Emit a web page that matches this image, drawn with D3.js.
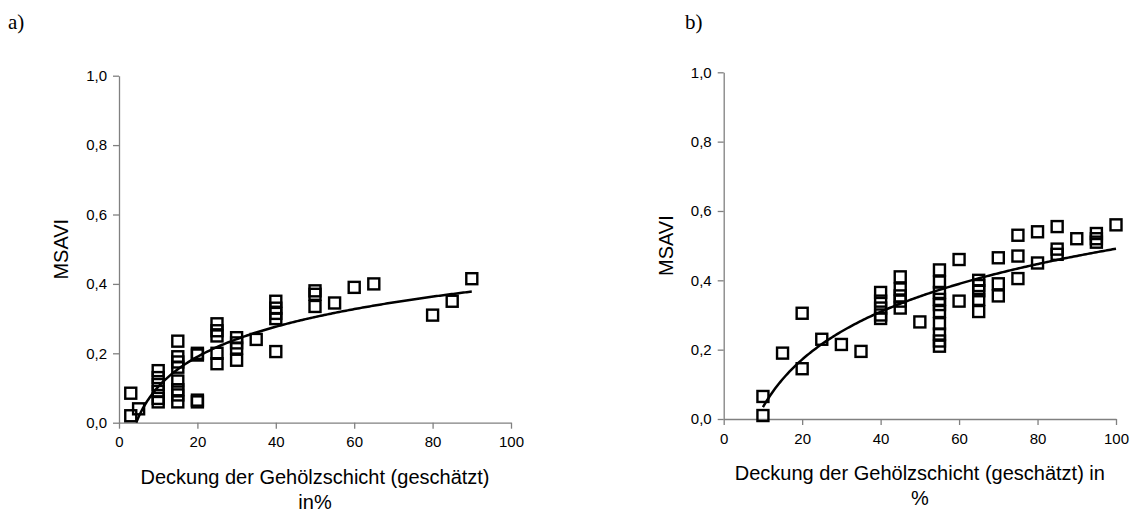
<!DOCTYPE html>
<html>
<head>
<meta charset="utf-8">
<script src="https://cdn.jsdelivr.net/npm/d3@7"></script>
<style>
  body { margin: 0; background: #fff; }
  svg text { font-family: Arial, "Liberation Sans", sans-serif; }
</style>
</head>
<body>
<svg width="1137" height="513"></svg>
<script>
// values
const xTicks = [0, 20, 40, 60, 80, 100]
const yTicks = [0, 0.2, 0.4, 0.6, 0.8, 1.0]

// panel a)
const coverA = [3, 3, 5, 10, 10, 10, 10, 10, 10, 15, 15, 15, 15, 15, 15, 15, 15,
  20, 20, 20, 20, 25, 25, 25, 25, 25, 30, 30, 30, 30, 35, 40, 40, 40, 40, 40,
  50, 50, 50, 55, 60, 65, 80, 85, 90]
const msaviA = [0.085, 0.02, 0.04, 0.15, 0.13, 0.11, 0.09, 0.07, 0.06,
  0.235, 0.19, 0.175, 0.16, 0.12, 0.095, 0.08, 0.06,
  0.2, 0.195, 0.06, 0.065, 0.285, 0.265, 0.25, 0.2, 0.17,
  0.245, 0.23, 0.215, 0.18, 0.24, 0.35, 0.33, 0.315, 0.3, 0.205,
  0.38, 0.37, 0.335, 0.345, 0.39, 0.40, 0.31, 0.35, 0.415]
const trendA = {a: 0.125, b: -0.1845, from: 4.4, to: 90}   // y = a*ln(x) + b

// panel b)
const coverB = [10, 10, 15, 20, 20, 25, 30, 35, 40, 40, 40, 40, 40,
  45, 45, 45, 45, 45, 50, 55, 55, 55, 55, 55, 55, 55, 55, 55, 55,
  60, 60, 65, 65, 65, 65, 65, 70, 70, 70, 75, 75, 75, 80, 80,
  85, 85, 85, 90, 95, 95, 95, 100]
const msaviB = [0.065, 0.01, 0.19, 0.305, 0.145, 0.23, 0.215, 0.195,
  0.365, 0.34, 0.32, 0.30, 0.29, 0.41, 0.375, 0.355, 0.34, 0.32, 0.28,
  0.43, 0.395, 0.365, 0.345, 0.33, 0.31, 0.275, 0.245, 0.225, 0.21,
  0.46, 0.34, 0.40, 0.385, 0.37, 0.345, 0.31, 0.465, 0.39, 0.355,
  0.53, 0.47, 0.405, 0.54, 0.45, 0.555, 0.49, 0.475, 0.52,
  0.535, 0.52, 0.51, 0.56]
const trendB = {a: 0.1985, b: -0.423, from: 10, to: 100}

const svg = d3.select('svg')
const fmt = d3.formatLocale({decimal: ',', thousands: '.', grouping: [3], currency: ['', '€']}).format('.1f')

const drawPanel = (p) => {
  const x = d3.scaleLinear().domain([0, 100]).range([p.left, p.right])
  const y = d3.scaleLinear().domain([0, 1]).range([p.bottom, p.top])
  const g = svg.append('g')

  const xAxis = g.append('g')
    .attr('transform', `translate(0,${p.bottom})`)
    .call(d3.axisBottom(x).tickValues(xTicks).tickSize(6).tickSizeOuter(0).tickPadding(8))
  const yAxis = g.append('g')
    .attr('transform', `translate(${p.left},0)`)
    .call(d3.axisLeft(y).tickValues(yTicks).tickFormat(fmt).tickSize(6).tickSizeOuter(0).tickPadding(6))
  ;[xAxis, yAxis].forEach(a => {
    a.selectAll('path, line').attr('stroke', '#808080').attr('stroke-width', 1.3)
    a.selectAll('text').attr('fill', '#000').style('font-size', '15px')
  })

  // markers: open squares
  const s = 11
  g.selectAll('rect.pt').data(p.xs.map((v, i) => [v, p.ys[i]]))
    .enter().append('rect')
      .attr('class', 'pt')
      .attr('x', d => x(d[0]) - s / 2)
      .attr('y', d => y(d[1]) - s / 2)
      .attr('width', s)
      .attr('height', s)
      .attr('fill', 'none')
      .attr('stroke', '#000')
      .attr('stroke-width', 2.4)

  // logarithmic trend line
  const t = p.trend
  const pts = d3.range(t.from, t.to + 0.001, (t.to - t.from) / 200).map(v => [v, t.a * Math.log(v) + t.b])
  g.append('path')
    .attr('fill', 'none')
    .attr('stroke', '#000')
    .attr('stroke-width', 2.5)
    .attr('d', d3.line().x(d => x(d[0])).y(d => y(d[1]))(pts))

  // labels
  g.append('text')
    .attr('transform', `translate(${p.yLabelX},${(p.top + p.bottom) / 2}) rotate(-90)`)
    .attr('text-anchor', 'middle')
    .attr('dy', '0.35em')
    .style('font-size', '20px')
    .text('MSAVI')
  const cx = (p.left + p.right) / 2
  p.title.forEach((line, i) => {
    g.append('text')
      .attr('x', cx)
      .attr('y', p.titleY + i * 25)
      .attr('text-anchor', 'middle')
      .style('font-size', '20px')
      .text(line)
  })
  svg.append('text')
    .attr('x', p.tagX)
    .attr('y', 29)
    .style('font-family', '"Liberation Serif", "Times New Roman", serif')
    .style('font-size', '21px')
    .text(p.tag)
}

drawPanel({
  left: 119, right: 511, top: 75.7, bottom: 422.7,
  xs: coverA, ys: msaviA, trend: trendA,
  yLabelX: 61, titleY: 484, tag: 'a)', tagX: 8,
  title: ['Deckung der Gehölzschicht (geschätzt)', 'in%']
})
drawPanel({
  left: 723.7, right: 1116, top: 72.3, bottom: 419,
  xs: coverB, ys: msaviB, trend: trendB,
  yLabelX: 666, titleY: 480, tag: 'b)', tagX: 685,
  title: ['Deckung der Gehölzschicht (geschätzt) in', '%']
})
</script>
</body>
</html>
